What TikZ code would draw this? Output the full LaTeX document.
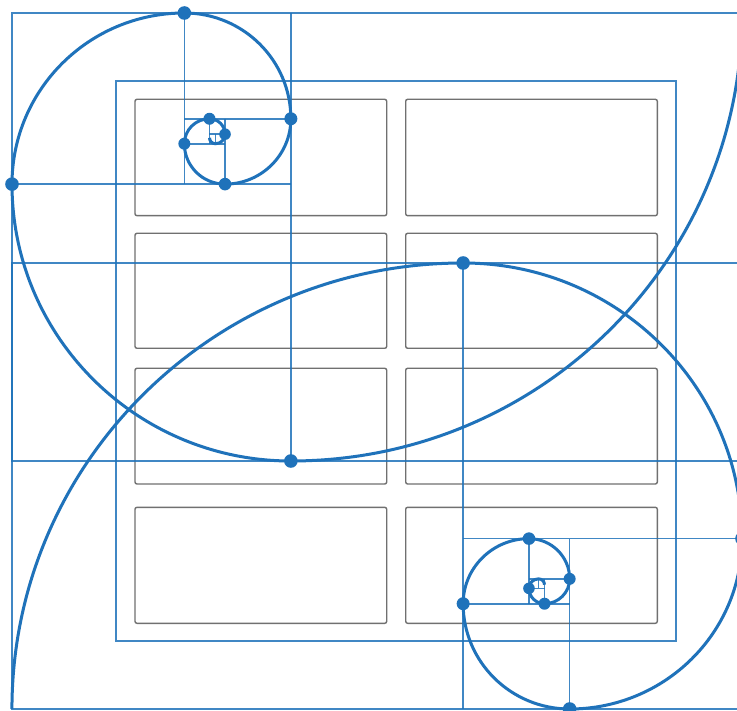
\documentclass[tikz,border=0pt]{standalone}
\definecolor{spblue}{RGB}{31,114,186}
\definecolor{cellgray}{RGB}{112,112,112}
\tikzset{
  guide/.style={draw=spblue, line width=1.6pt, opacity=0.85},
  spiralarc/.style={draw=spblue, line width=3pt},
  jdot/.style={fill=spblue},
  cellbox/.style={draw=cellgray, line width=1.4pt, rounded corners=2pt},
  tableframe/.style={draw=spblue, line width=1.8pt, opacity=0.85},
}
\newcommand{\goldspiral}{%
  \draw[guide] (0,0) rectangle (1.618034,1);
  \draw[guide] (0.618034,0) -- (0.618034,1);
  \draw[guide] (0,0.381966) -- (0.618034,0.381966);
  \draw[guide] (0.381966,0) -- (0.381966,0.381966);
  \draw[guide] (0.381966,0.236068) -- (0.618034,0.236068);
  \draw[guide] (0.472136,0.236068) -- (0.472136,0.381966);
  \draw[guide] (0.381966,0.291796) -- (0.472136,0.291796);
  \draw[guide] (0.437694,0.236068) -- (0.437694,0.291796);
  \draw[guide] (0.437694,0.270510) -- (0.472136,0.270510);
  \draw[guide] (0.450850,0.270510) -- (0.450850,0.291796);
  \draw[spiralarc] (1.618034,0)
    .. controls (1.618034,0.552285) and (1.170319,1) .. (0.618034,1)
    .. controls (0.276703,1) and (0,0.723297) .. (0,0.381966)
    .. controls (0,0.171012) and (0.171012,0) .. (0.381966,0)
    .. controls (0.512343,0) and (0.618034,0.105691) .. (0.618034,0.236068)
    .. controls (0.618034,0.316645) and (0.552713,0.381966) .. (0.472136,0.381966)
    .. controls (0.422336,0.381966) and (0.381966,0.341596) .. (0.381966,0.291796)
    .. controls (0.381966,0.261018) and (0.406916,0.236068) .. (0.437694,0.236068)
    .. controls (0.456716,0.236068) and (0.472136,0.251488) .. (0.472136,0.270510)
    .. controls (0.472136,0.282266) and (0.462606,0.291796) .. (0.450850,0.291796)
    .. controls (0.443584,0.291796) and (0.437694,0.285906) .. (0.437694,0.278640);
  \foreach \u/\v/\r in {0.618034/1/6.8, 0/0.381966/6.8, 0.381966/0/6.8, 0.618034/0.236068/6.5,
                     0.472136/0.381966/6.3, 0.381966/0.291796/6, 0.437694/0.236068/6,
                     0.472136/0.270510/5.8}
    \fill[jdot] (\u,\v) circle (\r pt);
}
\begin{document}
\begin{tikzpicture}
  \useasboundingbox (0pt,0pt) rectangle (737pt,-711pt);
  \clip (0pt,0pt) rectangle (737pt,-711pt);
  \fill[white] (0pt,0pt) rectangle (737pt,-711pt);
  % table
  \draw[tableframe] (116pt,-81pt) rectangle (676pt,-641pt);
  \foreach \ya/\yb in {99.3/215.7, 233.3/348.3, 368.3/484, 507.3/623.3} {
    \draw[cellbox] (135pt,-\ya pt) rectangle (386.7pt,-\yb pt);
    \draw[cellbox] (405.7pt,-\ya pt) rectangle (657.3pt,-\yb pt);
  }
  % spiral A (top left)
  \begin{scope}[shift={(12pt,-13pt)}, x={(451.2pt,0pt)}, y={(0pt,-448pt)}]
    \goldspiral
  \end{scope}
  % spiral B (bottom right), point reflection of A
  \begin{scope}[shift={(742pt,-709pt)}, x={(-451.2pt,0pt)}, y={(0pt,446pt)}]
    \goldspiral
  \end{scope}
\end{tikzpicture}
\end{document}
